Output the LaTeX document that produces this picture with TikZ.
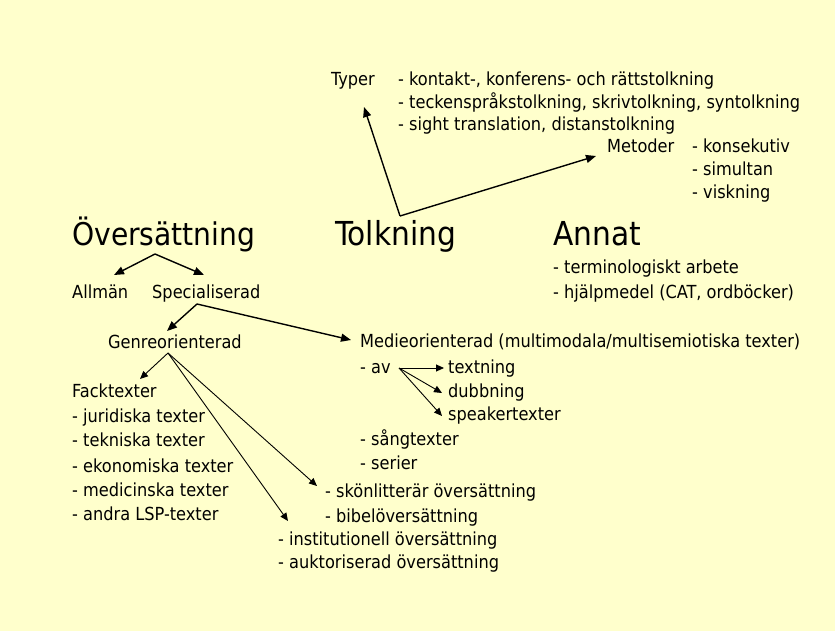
\documentclass[tikz,border=0pt]{standalone}
\usepackage{fontspec}
\setmainfont{DejaVu Sans Condensed}
\usetikzlibrary{arrows.meta}
\definecolor{bg}{HTML}{FFFFCC}
\begin{document}
\begin{tikzpicture}[x=1pt,y=-1pt,
  txt/.style={anchor=base west,inner sep=0pt,font=\fontsize{18}{21}\selectfont},
  big/.style={anchor=base west,inner sep=0pt,font=\fontsize{33}{38}\selectfont},
  arr/.style={line width=1.4pt,-{Triangle[length=10pt,width=8pt]}},
  thin/.style={line width=0.9pt,-{Triangle[length=8pt,width=7pt]}}]
\fill[bg] (0,0) rectangle (835,631);
\useasboundingbox (0,0) rectangle (835,631);
% Tolkning branch
\node[txt] (typer) at (331,86) {Typer};
\node[txt] (t1) at (398,86) {- kontakt-, konferens- och rättstolkning};
\node[txt] (t2) at (398,109) {- teckenspråkstolkning, skrivtolkning, syntolkning};
\node[txt] (t3) at (398,131) {- sight translation, distanstolkning};
\node[txt] (metoder) at (607,153) {Metoder};
\node[txt] (m1) at (692,153) {- konsekutiv};
\node[txt] (m2) at (692,176) {- simultan};
\node[txt] (m3) at (692,199) {- viskning};
% titles
\node[big,font=\fontsize{31.3}{36}\selectfont] (ovs) at (72,245) {Översättning};
\node[big] (tolk) at (335,245) {Tolkning};
\node[big] (annat) at (553,245) {Annat};
\node[txt] (a1) at (553,273) {- terminologiskt arbete};
\node[txt] (a2) at (553,298) {- hjälpmedel (CAT, ordböcker)};
% Översättning branch
\node[txt] (allman) at (72,298) {Allmän};
\node[txt] (spec) at (152,298) {Specialiserad};
\node[txt] (genre) at (108,348) {Genreorienterad};
\node[txt] (medie) at (360,347) {Medieorienterad (multimodala/multisemiotiska texter)};
\node[txt] (av) at (360,373) {- av};
\node[txt] (textning) at (448,373) {textning};
\node[txt] (dubb) at (448,397) {dubbning};
\node[txt] (speaker) at (448,420) {speakertexter};
\node[txt] (sang) at (360,445) {- sångtexter};
\node[txt] (serier) at (360,469) {- serier};
\node[txt] (fack) at (72,397) {Facktexter};
\node[txt] (f1) at (72,422) {- juridiska texter};
\node[txt] (f2) at (72,446) {- tekniska texter};
\node[txt] (f3) at (72,472) {- ekonomiska texter};
\node[txt] (f4) at (72,496) {- medicinska texter};
\node[txt] (f5) at (72,520) {- andra LSP-texter};
\node[txt] (skon) at (325,497) {- skönlitterär översättning};
\node[txt] (bibel) at (325,522) {- bibelöversättning};
\node[txt] (inst) at (278,545) {- institutionell översättning};
\node[txt] (akt) at (278,568) {- auktoriserad översättning};
% connector points
\coordinate (tk) at (400,216);
\coordinate (tkA) at (364,107);
\coordinate (tkB) at (596,156);
\coordinate (os) at (155,254);
\coordinate (osA) at (114,275);
\coordinate (osB) at (204,275);
\coordinate (sp) at (197,304);
\coordinate (spA) at (167,331);
\coordinate (spB) at (351,340);
\coordinate (gr) at (168,353);
\coordinate (grA) at (140,379);
\coordinate (grB) at (317,486);
\coordinate (grC) at (288,521);
\coordinate (avo) at (399,368);
\coordinate (avA) at (444,368);
\coordinate (avB) at (442,393);
\coordinate (avC) at (442,416);
\draw[arr] (tk) -- (tkA);
\draw[arr] (tk) -- (tkB);
\draw[arr] (os) -- (osA);
\draw[arr] (os) -- (osB);
\draw[arr] (sp) -- (spA);
\draw[arr] (sp) -- (spB);
\draw[thin] (gr) -- (grA);
\draw[thin] (gr) -- (grB);
\draw[thin] (gr) -- (grC);
\draw[thin] (avo) -- (avA);
\draw[thin] (avo) -- (avB);
\draw[thin] (avo) -- (avC);
\end{tikzpicture}
\end{document}
